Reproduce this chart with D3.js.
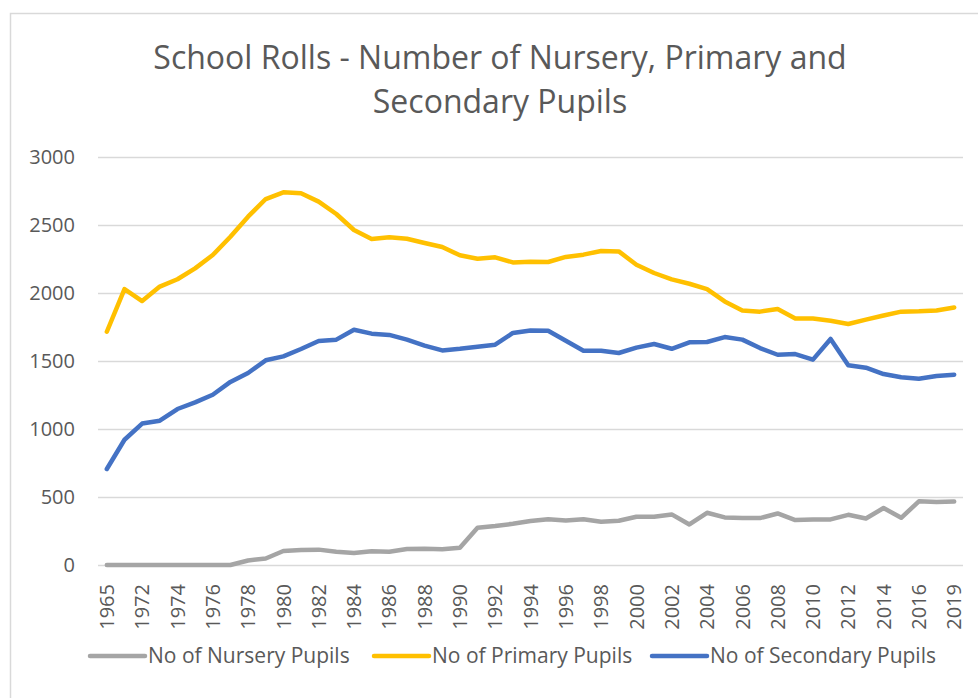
<!DOCTYPE html>
<html lang="en">
    <head>
        <meta charset="utf-8">
        <title>School Rolls</title>
        <script type="text/javascript" src="https://d3js.org/d3.v7.min.js"></script>
        <style type="text/css">
          body { margin: 0; background: #fff; }
          svg { width: 978px; height: 698px; display: block; }
          text { font-family: "Open Sans", sans-serif; fill: #595959; }
        </style>
    </head>
    <body>
      <svg></svg>

        <script type="text/javascript">

        // categories (labels shown on every other one)
        const years = ["1965", "1971", "1972", "1973", "1974", "1975", "1976", "1977", "1978", "1979",
                       "1980", "1981", "1982", "1983", "1984", "1985", "1986", "1987", "1988", "1989",
                       "1990", "1991", "1992", "1993", "1994", "1995", "1996", "1997", "1998", "1999",
                       "2000", "2001", "2002", "2003", "2004", "2005", "2006", "2007", "2008", "2009",
                       "2010", "2011", "2012", "2013", "2014", "2015", "2016", "2018", "2019"];

        const nursery = [0, 0, 0, 0, 0, 0, 0, 0, 33, 48,
                         103, 110, 113, 98, 89, 101, 97, 118, 120, 115,
                         127, 274, 287, 303, 323, 337, 328, 337, 318, 325,
                         355, 355, 372, 298, 384, 350, 345, 345, 379, 330,
                         335, 335, 369, 342, 419, 347, 468, 463, 466];

        const primary = [1715, 2029, 1941, 2047, 2101, 2181, 2279, 2414, 2561, 2691,
                         2740, 2733, 2672, 2581, 2463, 2397, 2410, 2399, 2368, 2338,
                         2277, 2252, 2262, 2225, 2230, 2228, 2265, 2282, 2309, 2306,
                         2208, 2147, 2100, 2068, 2029, 1938, 1872, 1863, 1882, 1813,
                         1813, 1796, 1772, 1804, 1835, 1863, 1865, 1872, 1894];

        const secondary = [706, 921, 1040, 1061, 1147, 1196, 1252, 1346, 1412, 1505,
                           1534, 1588, 1647, 1657, 1730, 1701, 1692, 1657, 1613, 1578,
                           1590, 1605, 1620, 1706, 1725, 1723, 1649, 1576, 1576, 1559,
                           1598, 1625, 1590, 1637, 1640, 1676, 1657, 1595, 1546, 1551,
                           1510, 1662, 1468, 1451, 1404, 1380, 1370, 1390, 1399];

        const yTicks = [0, 500, 1000, 1500, 2000, 2500, 3000];

        const seriesNames = ["No of Nursery Pupils", "No of Primary Pupils", "No of Secondary Pupils"];
        const seriesColors = ["#A5A5A5", "#FFC000", "#4472C4"];
        const seriesData = [nursery, primary, secondary];

        const svg = d3.select("svg");

        // chart border
        svg.append("rect")
           .attr("x", 10.5).attr("y", 13.5)
           .attr("width", 990).attr("height", 700)
           .attr("fill", "none")
           .attr("stroke", "#d9d9d9")
           .attr("stroke-width", 1.5);

        const plotLeft = 98, plotRight = 963, plotTop = 157, plotBottom = 565;

        const x = d3.scaleBand().domain(years).range([plotLeft, plotRight]).padding(0);
        const y = d3.scaleLinear().domain([0, 3000]).range([plotBottom, plotTop]);

        // y axis + gridlines
        const yAxis = svg.append("g")
           .attr("transform", `translate(${plotLeft},0)`)
           .call(d3.axisLeft(y).tickValues(yTicks).tickFormat(d3.format("d"))
                  .tickSize(-(plotRight - plotLeft)).tickPadding(23));
        yAxis.select(".domain").remove();
        yAxis.selectAll(".tick line").attr("stroke", "#d9d9d9").attr("stroke-width", 1.5);
        yAxis.selectAll(".tick text")
             .style("font-size", "20px")
             .style("font-family", "'Open Sans', sans-serif")
             .attr("fill", "#595959");

        // x axis labels, rotated
        const xAxis = svg.append("g")
           .attr("transform", `translate(0,${plotBottom})`)
           .call(d3.axisBottom(x).tickValues(years.filter((d, i) => i % 2 === 0)).tickSize(0));
        xAxis.select(".domain").remove();
        xAxis.selectAll(".tick text")
             .attr("transform", "rotate(-90)")
             .attr("text-anchor", "end")
             .attr("x", -19)
             .attr("y", 0)
             .attr("dy", "0.36em")
             .style("font-size", "20px")
             .style("font-family", "'Open Sans', sans-serif")
             .attr("fill", "#595959");

        // lines
        const line = d3.line()
            .x((d, i) => x(years[i]) + x.bandwidth() / 2)
            .y(d => y(d));

        seriesData.forEach((s, k) => {
          svg.append("path")
             .datum(s)
             .attr("d", line)
             .attr("fill", "none")
             .attr("stroke", seriesColors[k])
             .attr("stroke-width", 4.5)
             .attr("stroke-linejoin", "round")
             .attr("stroke-linecap", "round");
        });

        // title
        const title = svg.append("text")
           .attr("text-anchor", "middle")
           .style("font-size", "32px");
        title.append("tspan").attr("x", 500).attr("y", 69).text("School Rolls - Number of Nursery, Primary and");
        title.append("tspan").attr("x", 500).attr("y", 113).text("Secondary Pupils");

        // legend
        const legendX = [90, 374, 652];
        const legend = svg.append("g");
        seriesNames.forEach((name, k) => {
          legend.append("line")
             .attr("x1", legendX[k]).attr("x2", legendX[k] + 55)
             .attr("y1", 656).attr("y2", 656)
             .attr("stroke", seriesColors[k])
             .attr("stroke-width", 4.5)
             .attr("stroke-linecap", "round");
          legend.append("text")
             .attr("x", legendX[k] + 58)
             .attr("y", 656)
             .attr("dy", "0.35em")
             .style("font-size", "21px")
             .text(name);
        });
    </script>
</body>
</html>
